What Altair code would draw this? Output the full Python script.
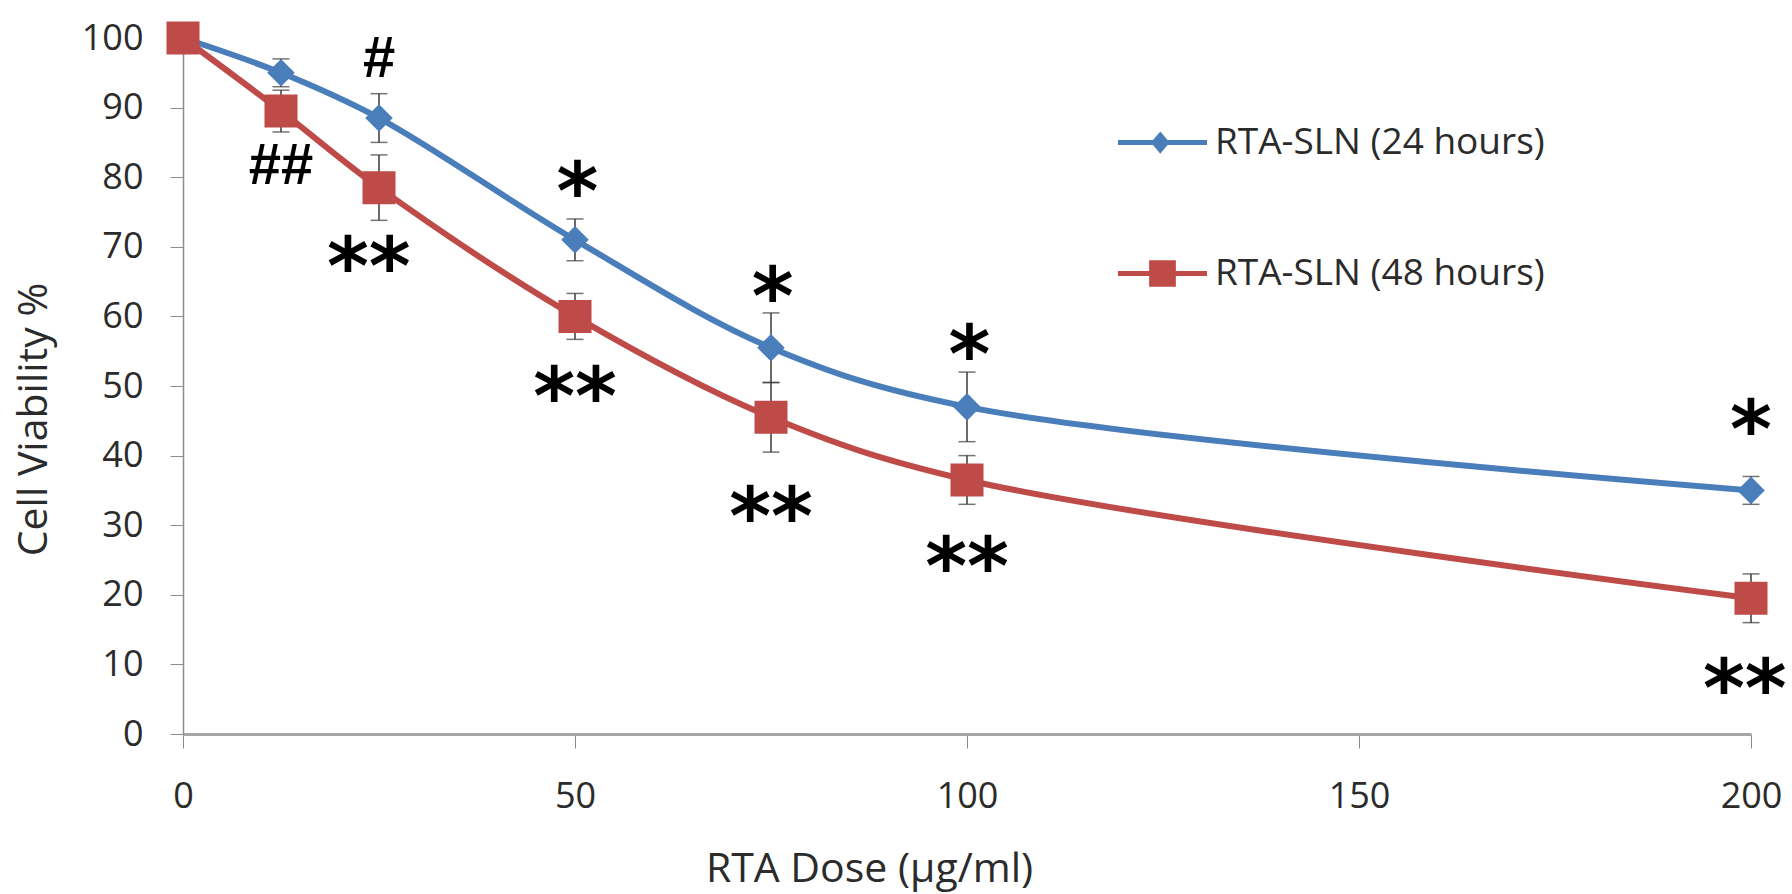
import altair as alt
import pandas as pd

doses = [0, 12.5, 25, 50, 75, 100, 200]
via24 = [100, 95, 88.5, 71, 55.5, 47, 35]
err24 = [0, 2, 3.5, 3, 5, 5, 2]
via48 = [100, 89.5, 78.5, 60, 45.5, 36.5, 19.5]
err48 = [0, 3, 4.7, 3.3, 5, 3.5, 3.5]

series_names = ["RTA-SLN (24 hours)", "RTA-SLN (48 hours)"]
series_colors = ["#4A7EBB", "#BE4B48"]

hash_x = [25, 12.5]
hash_y = [97.4, 82.0]
hash_text = ["#", "##"]

star_x = [23.7, 50.3, 50, 75.2, 75, 100.3, 100, 200, 199.2]
star_y = [69.5, 80.3, 50.9, 65.2, 33.6, 56.9, 26.4, 46.1, 8.9]
star_text = ["**", "*", "**", "*", "**", "*", "**", "*", "**"]

rows = []
for name, vals, errs in [(series_names[0], via24, err24), (series_names[1], via48, err48)]:
    for d, v, e in zip(doses, vals, errs):
        rows.append({"dose": d, "via": v, "lo": v - e, "hi": v + e, "err": e, "series": name})
df = pd.DataFrame(rows)
hashes = pd.DataFrame({"x": hash_x, "y": hash_y, "t": hash_text})
stars = pd.DataFrame({"x": star_x, "y": star_y, "t": star_text})

FONT = "Open Sans"
TXT = "#2B2B2B"

xscale = alt.Scale(domain=[0, 200], nice=False, zero=False)
yscale = alt.Scale(domain=[0, 100], nice=False)

xaxis = alt.Axis(values=[0, 50, 100, 150, 200], grid=False, title="RTA Dose (µg/ml)",
                 domainColor="#A6A6A6", domainWidth=3, tickColor="#8C8C8C", tickSize=14,
                 labelFont=FONT, labelFontSize=36, labelColor=TXT, labelPadding=31,
                 titleFont=FONT, titleFontSize=41, titleFontWeight="normal", titleColor=TXT,
                 titleX=686, titleY=135, titleAlign="center", titleBaseline="middle",
                 labelFlush=False)
yaxis = alt.Axis(values=list(range(0, 101, 10)), grid=False, title="Cell Viability %",
                 domainColor="#8C8C8C", domainWidth=1.5, tickColor="#8C8C8C", tickSize=13,
                 labelFont=FONT, labelFontSize=36, labelColor=TXT, labelPadding=27,
                 titleFont=FONT, titleFontSize=41, titleFontWeight="normal", titleColor=TXT,
                 titleX=-149, titleY=381, titleAngle=-90, titleAlign="center",
                 titleBaseline="middle")

base = alt.Chart(df)
X = alt.X("dose:Q", scale=xscale, axis=xaxis)
Y = alt.Y("via:Q", scale=yscale, axis=yaxis)

s24 = base.transform_filter(alt.datum.series == series_names[0])
s48 = base.transform_filter(alt.datum.series == series_names[1])

line24 = s24.mark_line(strokeWidth=6, interpolate="catmull-rom", color=series_colors[0]).encode(x=X, y=Y)
line48 = s48.mark_line(strokeWidth=6, interpolate="catmull-rom", color=series_colors[1]).encode(x="dose:Q", y="via:Q")

eb = base.transform_filter("datum.err > 0")
err_rule = eb.mark_rule(color="#3A3A3A", strokeWidth=1.5).encode(
    x="dose:Q", y="lo:Q", y2="hi:Q")
cap_lo = eb.mark_tick(color="#3A3A3A", thickness=1.5, size=17, orient="horizontal").encode(
    x="dose:Q", y="lo:Q")
cap_hi = eb.mark_tick(color="#3A3A3A", thickness=1.5, size=17, orient="horizontal").encode(
    x="dose:Q", y="hi:Q")

pts24 = s24.mark_point(shape="diamond", filled=True, size=760, color=series_colors[0],
                       opacity=1).encode(x="dose:Q", y="via:Q")
pts48 = s48.mark_point(shape="square", filled=True, size=1089, color=series_colors[1],
                       opacity=1).encode(x="dose:Q", y="via:Q")

sym24 = "M-1,-0.056L1,-0.056L1,0.056L-1,0.056Z M-0.05,-0.25L0.16,0L-0.05,0.25L-0.26,0Z"
sym48 = "M-1,-0.056L1,-0.056L1,0.056L-1,0.056Z M-0.3,-0.3L0.3,-0.3L0.3,0.3L-0.3,0.3Z"

legend_layer = base.transform_filter("false").mark_point(filled=True, opacity=1).encode(
    x="dose:Q", y="via:Q",
    color=alt.Color("series:N", scale=alt.Scale(domain=series_names, range=series_colors),
                    legend=alt.Legend(title=None, orient="none", legendX=935, legendY=60,
                                      symbolSize=7921, labelFont=FONT, labelFontSize=37,
                                      labelColor=TXT, labelOffset=8, rowPadding=68,
                                      padding=0, symbolStrokeWidth=0, symbolOpacity=1,
                                      labelLimit=600)),
    shape=alt.Shape("series:N", scale=alt.Scale(domain=series_names, range=[sym24, sym48])),
)

STAR_FS = 80
star_layer = alt.Chart(stars).mark_text(font="DejaVu Sans", fontWeight="bold", fontSize=STAR_FS,
                                        color="black", baseline="alphabetic", align="center",
                                        dy=round(0.55 * STAR_FS)).encode(
    x=alt.X("x:Q", scale=xscale), y=alt.Y("y:Q", scale=yscale), text="t:N")

HASH_FS = 58
hash_layer = alt.Chart(hashes).mark_text(font="Liberation Sans", fontWeight="bold", fontSize=HASH_FS,
                                         color="black", baseline="alphabetic", align="center",
                                         dy=round(0.36 * HASH_FS)).encode(
    x=alt.X("x:Q", scale=xscale), y=alt.Y("y:Q", scale=yscale), text="t:N")

chart = alt.layer(line24, line48, err_rule, cap_lo, cap_hi, pts24, pts48, legend_layer,
                  star_layer, hash_layer).properties(
    width=1568, height=696,
    background="white",
    autosize=alt.AutoSizeParams(type="none"),
    padding={"left": 183, "top": 38, "right": 41, "bottom": 160},
).configure_view(stroke=None)

chart.save("out.html", embed_options={"renderer": "svg", "actions": False})
